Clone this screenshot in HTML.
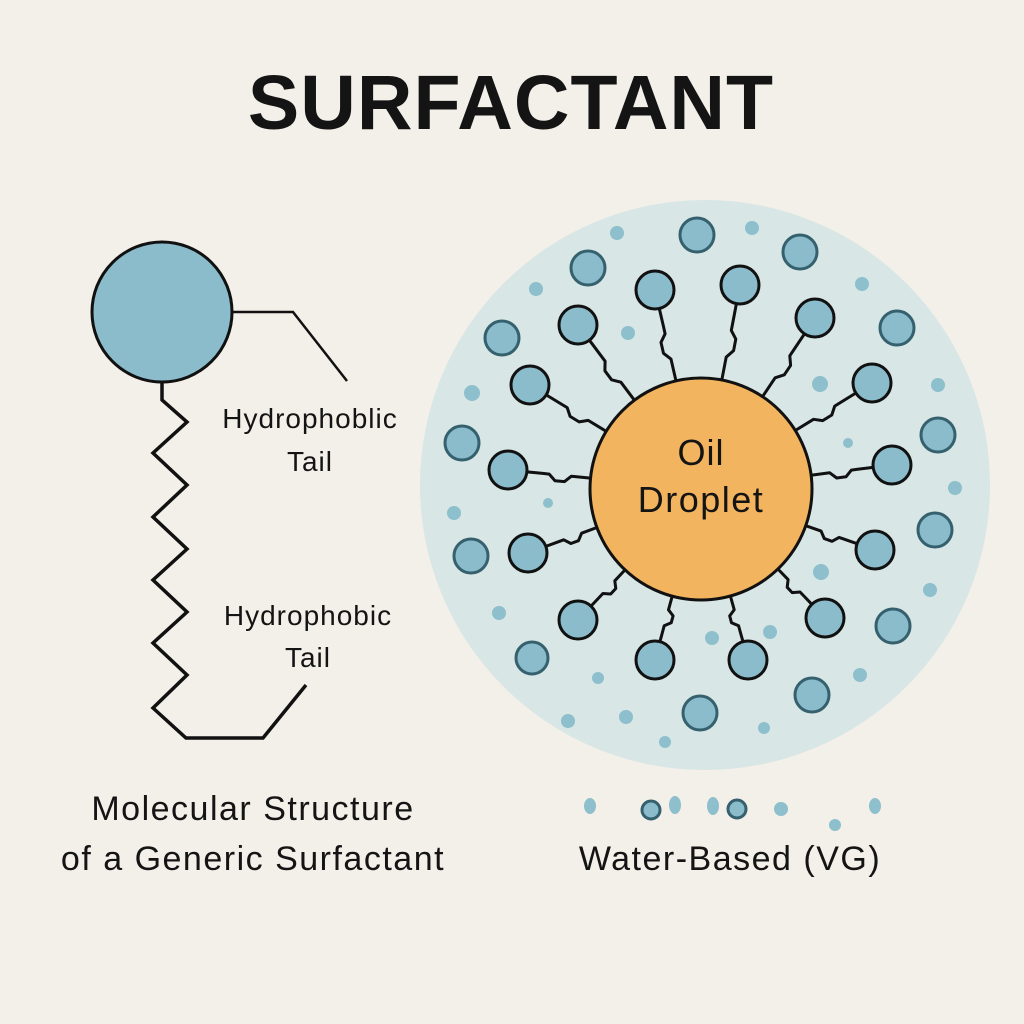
<!DOCTYPE html>
<html><head><meta charset="utf-8"><style>
html,body{margin:0;padding:0;background:#f3efe9;}
svg{display:block}
text{font-family:"Liberation Sans",sans-serif;fill:#141414}
</style></head><body>
<svg id="s" width="1024" height="1024" viewBox="0 0 1024 1024">
<rect width="1024" height="1024" fill="#f3efe9"/>
<text x="511" y="129" font-size="77" font-weight="bold" text-anchor="middle" letter-spacing="1">SURFACTANT</text>

<!-- left molecule -->
<circle cx="162" cy="312" r="70" fill="#8bbccb" stroke="#111" stroke-width="3"/>
<polyline points="232,312 293,312 347,381" fill="none" stroke="#111" stroke-width="2.5"/>
<polyline points="162,382 162,400 187,422 153,453 187,485 153,517 187,549 153,580 187,612 153,643 187,675 153,708 186,738 263,738 306,685" fill="none" stroke="#111" stroke-width="3.5" stroke-linejoin="miter"/>
<g font-size="28" text-anchor="middle" letter-spacing="1">
<text x="310" y="428">Hydrophoblic</text>
<text x="310" y="471">Tail</text>
<text x="308" y="625">Hydrophobic</text>
<text x="308" y="667">Tail</text>
</g>
<g font-size="34" text-anchor="middle" letter-spacing="1.5">
<text x="253" y="820">Molecular Structure</text>
<text x="253" y="870">of a Generic Surfactant</text>
<text x="730" y="870">Water-Based (VG)</text>
</g>

<!-- micelle -->
<circle cx="705" cy="485" r="285" fill="#d8e6e6"/>
<g id="tails" fill="none" stroke="#111" stroke-width="3" stroke-linejoin="round"></g>
<circle cx="701" cy="489" r="111" fill="#f2b45e" stroke="#111" stroke-width="3"/>
<text x="701" y="465" font-size="36" text-anchor="middle" letter-spacing="1">Oil</text>
<text x="701" y="512" font-size="36" text-anchor="middle" letter-spacing="1.5">Droplet</text>
<g id="heads" fill="#8bbccb" stroke="#111" stroke-width="3"></g>
<g fill="#8bbccb" stroke="#35606e" stroke-width="3">
<circle cx="697" cy="235" r="17"/><circle cx="800" cy="252" r="17"/><circle cx="588" cy="268" r="17"/>
<circle cx="502" cy="338" r="17"/><circle cx="897" cy="328" r="17"/><circle cx="462" cy="443" r="17"/>
<circle cx="938" cy="435" r="17"/><circle cx="471" cy="556" r="17"/><circle cx="935" cy="530" r="17"/>
<circle cx="532" cy="658" r="16"/><circle cx="893" cy="626" r="17"/><circle cx="812" cy="695" r="17"/>
<circle cx="700" cy="713" r="17"/>
</g>
<g fill="#8dbfcc">
<circle cx="617" cy="233" r="7"/><circle cx="752" cy="228" r="7"/><circle cx="536" cy="289" r="7"/>
<circle cx="862" cy="284" r="7"/><circle cx="628" cy="333" r="7"/><circle cx="820" cy="384" r="8"/>
<circle cx="472" cy="393" r="8"/><circle cx="938" cy="385" r="7"/><circle cx="848" cy="443" r="5"/>
<circle cx="548" cy="503" r="5"/><circle cx="955" cy="488" r="7"/><circle cx="454" cy="513" r="7"/>
<circle cx="821" cy="572" r="8"/><circle cx="712" cy="638" r="7"/>
<circle cx="930" cy="590" r="7"/><circle cx="499" cy="613" r="7"/><circle cx="770" cy="632" r="7"/>
<circle cx="860" cy="675" r="7"/><circle cx="598" cy="678" r="6"/><circle cx="626" cy="717" r="7"/>
<circle cx="764" cy="728" r="6"/><circle cx="568" cy="721" r="7"/><circle cx="665" cy="742" r="6"/>
</g>
<!-- legend dots -->
<g fill="#8dbfcc">
<ellipse cx="590" cy="806" rx="6" ry="8"/><ellipse cx="675" cy="805" rx="6" ry="9"/>
<ellipse cx="713" cy="806" rx="6" ry="9"/><circle cx="781" cy="809" r="7"/>
<circle cx="835" cy="825" r="6"/><ellipse cx="875" cy="806" rx="6" ry="8"/>
</g>
<g fill="#8bbccb" stroke="#35606e" stroke-width="3">
<circle cx="651" cy="810" r="9"/><circle cx="737" cy="809" r="9"/>
</g>
</svg>
<script>
(function(){
var NS="http://www.w3.org/2000/svg";
var H=[[655,290],[740,285],[578,325],[815,318],[530,385],[872,383],[508,470],[892,465],[528,553],[875,550],[578,620],[825,618],[655,660],[748,660]];
var cx=701,cy=489,tg=document.getElementById('tails'),hg=document.getElementById('heads');
H.forEach(function(h,i){
 var vx=h[0]-cx,vy=h[1]-cy,L=Math.sqrt(vx*vx+vy*vy),ux=vx/L,uy=vy/L,px=-uy,py=ux;
 var T=L-130,sx=cx+111*ux,sy=cy+111*uy;
 function P(t,o){return (sx+t*T*ux+o*px).toFixed(1)+","+(sy+t*T*uy+o*py).toFixed(1);}
 var s=(i%2?1:-1);
 var pts=[P(0,0),P(0.3,0),P(0.4,6*s),P(0.55,6*s),P(0.65,0),P(0.75,0),P(1,0)];
 var pl=document.createElementNS(NS,'polyline');pl.setAttribute('points',pts.join(' '));tg.appendChild(pl);
 var c=document.createElementNS(NS,'circle');c.setAttribute('cx',h[0]);c.setAttribute('cy',h[1]);c.setAttribute('r',19);hg.appendChild(c);
});
})();
</script>
</body></html>
